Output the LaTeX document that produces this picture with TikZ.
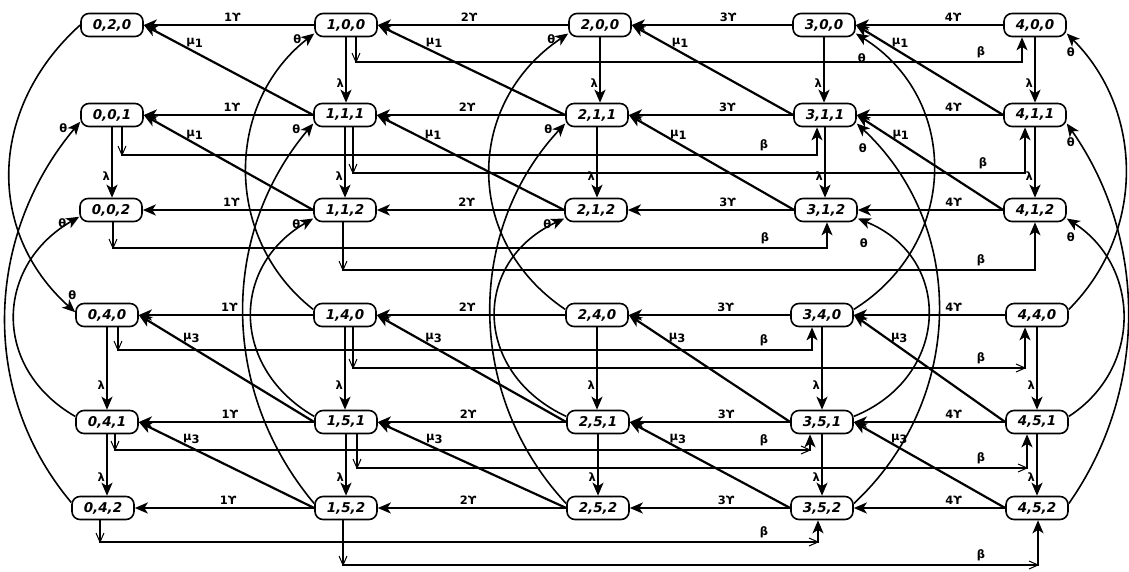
\documentclass[tikz,border=0pt]{standalone}
\usepackage{fontspec}
\setmainfont{DejaVu Sans}[BoldFont={DejaVu Sans Bold},ItalicFont={DejaVu Sans Oblique},BoldItalicFont={DejaVu Sans Bold Oblique}]
\usetikzlibrary{arrows.meta,calc}
\newcommand{\Vmk}[1]{\draw[markline] (#1) ++(-4,-9) -- (#1) -- ++(4,-9);}
\newcommand{\Gmk}[1]{\draw[markline] (#1) ++(-9,-4) -- (#1) -- ++(-9,4);}
\newcommand{\mui}{μ\raisebox{-3pt}{1}}
\newcommand{\muiii}{μ\raisebox{-3pt}{3}}
\begin{document}
\begin{tikzpicture}[x=1pt,y=-1pt,
  st/.style={draw, line width=1.6pt, rounded corners=8pt, minimum width=62pt, minimum height=23pt, inner sep=0pt, fill=white, font=\fontsize{13.5}{13.5}\selectfont\bfseries\itshape},
  tipA/.style={-{Stealth[length=13pt,width=11pt,inset=3.5pt]}},
  harr/.style={tipA, line width=2.2pt},
  varr/.style={tipA, line width=2.2pt},
  marr/.style={tipA, line width=2.2pt},
  barr/.style={tipA, line width=2pt},
  tarr/.style={tipA, line width=1.6pt},
  markline/.style={line width=1pt},
  lbl/.style={font=\fontsize{11.5}{11.5}\selectfont\bfseries, inner sep=1pt},
  th/.style={lbl, at end, xshift=-17pt, yshift=-6pt},
  thr/.style={lbl, at end, xshift=6pt, yshift=-25pt},
  thf/.style={lbl, at end, xshift=4pt, yshift=-19pt},
]
\fill[white] (0,0) rectangle (1129,571);
\useasboundingbox (0,0) rectangle (1129,571);

% ---------- states ----------
\node[st] (n020) at (112,25) {0,2,0};
\node[st] (n100) at (346,25) {1,0,0};
\node[st] (n200) at (600,25) {2,0,0};
\node[st] (n300) at (824,25) {3,0,0};
\node[st] (n400) at (1035,25) {4,0,0};
\node[st] (n001) at (112,115) {0,0,1};
\node[st] (n111) at (345,115) {1,1,1};
\node[st] (n211) at (597,115) {2,1,1};
\node[st] (n311) at (825,115) {3,1,1};
\node[st] (n411) at (1035,115) {4,1,1};
\node[st] (n002) at (111,210) {0,0,2};
\node[st] (n112) at (345,210) {1,1,2};
\node[st] (n212) at (596,210) {2,1,2};
\node[st] (n312) at (826,210) {3,1,2};
\node[st] (n412) at (1035,210) {4,1,2};
\node[st] (n040) at (107,315) {0,4,0};
\node[st] (n140) at (345,315) {1,4,0};
\node[st] (n240) at (597,315) {2,4,0};
\node[st] (n340) at (822,315) {3,4,0};
\node[st] (n440) at (1037,315) {4,4,0};
\node[st] (n041) at (107,422) {0,4,1};
\node[st] (n151) at (346,422) {1,5,1};
\node[st] (n251) at (598,422) {2,5,1};
\node[st] (n351) at (822,422) {3,5,1};
\node[st] (n451) at (1037,422) {4,5,1};
\node[st] (n042) at (103,508) {0,4,2};
\node[st] (n152) at (346,508) {1,5,2};
\node[st] (n252) at (598,508) {2,5,2};
\node[st] (n352) at (822,508) {3,5,2};
\node[st] (n452) at (1037,508) {4,5,2};

% ---------- retrial (horizontal) ----------
\foreach \A/\B/\C/\D/\E in {020/100/200/300/400, 001/111/211/311/411, 002/112/212/312/412, 040/140/240/340/440, 041/151/251/351/451, 042/152/252/352/452}{
  \draw[harr] (n\B) -- node[lbl,above=1pt,pos=.48]{1ϒ} (n\A);
  \draw[harr] (n\C) -- node[lbl,above=1pt,pos=.52]{2ϒ} (n\B);
  \draw[harr] (n\D) -- node[lbl,above=1pt,pos=.40]{3ϒ} (n\C);
  \draw[harr] (n\E) -- node[lbl,above=1pt,pos=.34]{4ϒ} (n\D);
}

% ---------- lambda (vertical) ----------
\foreach \X/\Y in {001/002, 100/111, 111/112, 200/211, 211/212, 300/311, 311/312, 400/411, 411/412,
                   040/041, 041/042, 140/151, 151/152, 240/251, 251/252, 340/351, 351/352, 440/451, 451/452}{
  \draw[varr] (n\X.south) -- node[lbl,left,pos=.7]{λ} (n\X.south |- n\Y.north);
}

% ---------- mu (diagonal) ----------
\foreach \X/\Y in {111/020, 112/001, 211/100, 212/111, 311/200, 312/211, 411/300, 412/311}{
  \draw[marr] (n\X.west) -- node[lbl,above=2pt,pos=.7]{\mui} (n\Y.east);
}
\foreach \X/\Y in {151/040, 152/041, 251/140, 252/151, 351/240, 352/251, 451/340, 452/351}{
  \draw[marr] (n\X.west) -- node[lbl,above=2pt,pos=.7]{\muiii} (n\Y.east);
}

% ---------- beta (bent) ----------
\coordinate (s1) at ($(n100.south)+(10,0)$);  \coordinate (e1) at ($(n400.south)+(-13,0)$);
\coordinate (s2) at ($(n001.south)+(10,0)$);  \coordinate (e2) at ($(n311.south)+(-8,0)$);
\coordinate (s3) at ($(n111.south)+(8,0)$);   \coordinate (e3) at ($(n411.south)+(-10,0)$);
\coordinate (s4) at ($(n002.south)+(2,0)$);   \coordinate (e4) at ($(n312.south)+(1,0)$);
\coordinate (s5) at ($(n112.south)+(-2,0)$);  \coordinate (e5) at (n412.south);
\coordinate (s6) at ($(n040.south)+(11,0)$);  \coordinate (e6) at ($(n340.south)+(-10,0)$);
\coordinate (s7) at ($(n140.south)+(8,0)$);   \coordinate (e7) at ($(n440.south)+(-12,0)$);
\coordinate (s8) at ($(n041.south)+(8,0)$);   \coordinate (e8) at ($(n351.south)+(-12,0)$);
\coordinate (s9) at ($(n151.south)+(11,0)$);  \coordinate (e9) at ($(n451.south)+(-10,0)$);
\coordinate (s10) at ($(n042.south)+(-3,0)$); \coordinate (e10) at ($(n352.south)+(-4,0)$);
\coordinate (s11) at ($(n152.south)+(-3,0)$); \coordinate (e11) at ($(n452.south)+(1,0)$);
\foreach \i/\h/\lx in {1/62/981, 2/155/764, 3/173/983, 4/248/765, 5/270/981, 6/350/764, 7/368/981, 8/450/764, 9/468/981, 10/542/764, 11/565/981}{
  \draw[barr] (s\i) -- (s\i|-0,\h) -- (e\i|-0,\h) -- (e\i);
  \Vmk{s\i|-0,\h}
  \node[lbl] at (\lx,\h-10) {β};
}
\foreach \i/\h in {7/368, 8/450, 9/468, 10/542, 11/565}{
  \Gmk{e\i|-0,\h}
}

% ---------- theta (arcs) ----------
\draw[tarr] (n020.west) to[out=222,in=138,distance=122pt] node[lbl,at end,xshift=-3pt,yshift=17pt]{θ} (n040.175);
\draw[tarr] (n041.170) to[out=150,in=210,distance=97pt] node[th]{θ} (n002.192);
\draw[tarr] (n042.170) to[out=130,in=230,distance=146pt] node[th]{θ} (n001.192);

\draw[tarr] (n140.170) to[out=142,in=218,distance=114pt] node[th]{θ} (n100.195);
\draw[tarr] (n151.170) to[out=150,in=210,distance=96pt] node[th]{θ} (n112.195);
\draw[tarr] (n152.172) to[out=130,in=230,distance=146pt] node[th]{θ} (n111.195);

\draw[tarr] (n240.170) to[out=146,in=214,distance=124pt] node[th]{θ} (n200.195);
\draw[tarr] (n251.170) to[out=155,in=205,distance=103pt] node[th]{θ} (n212.195);
\draw[tarr] (n252.172) to[out=133,in=227,distance=147pt] node[th]{θ} (n211.195);

\draw[tarr] (n340.10) to[out=32,in=-32,distance=124pt] node[thr]{θ} (n300.345);
\draw[tarr] (n351.10) to[out=22,in=-22,distance=104pt] node[thr]{θ} (n312.345);
\draw[tarr] (n352.8) to[out=43,in=-43,distance=152pt] node[thr]{θ} (n311.345);

\draw[tarr] (n440.10) to[out=45,in=-45,distance=109pt] node[thf]{θ} (n400.345);
\draw[tarr] (n451.10) to[out=33,in=-33,distance=88pt] node[thf]{θ} (n412.345);
\draw[tarr] (n452.8) to[out=55,in=-55,distance=140pt] node[thf]{θ} (n411.345);
\end{tikzpicture}
\end{document}
